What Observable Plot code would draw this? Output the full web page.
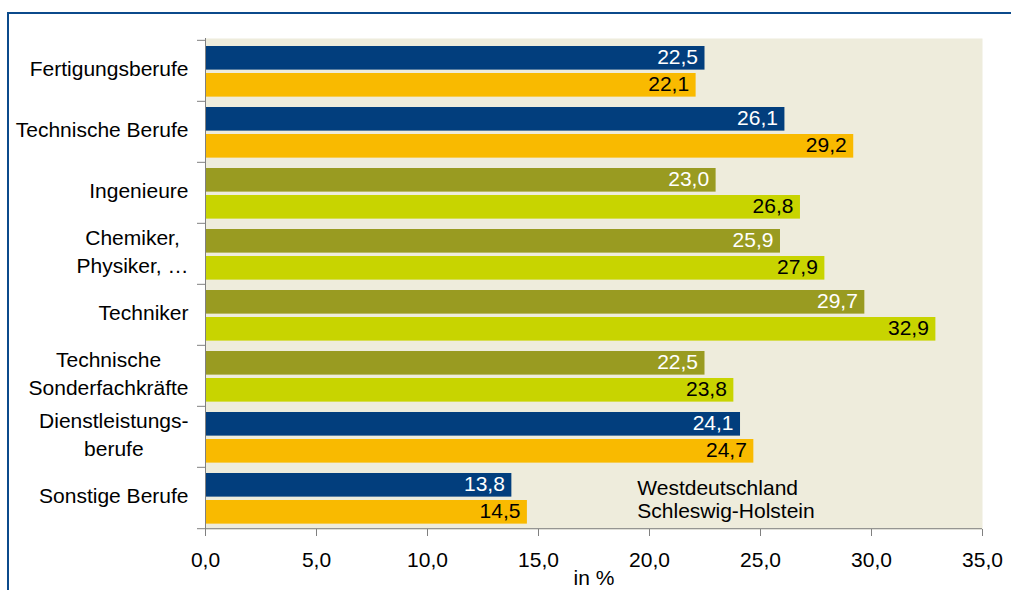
<!DOCTYPE html>
<html>
<head>
<meta charset="utf-8">
<script src="https://cdn.jsdelivr.net/npm/d3@7"></script>
<script src="https://cdn.jsdelivr.net/npm/@observablehq/plot@0.6"></script>
<style>
  html, body { margin: 0; padding: 0; background: #fff; overflow: hidden; width: 1011px; height: 590px; }
  #border { position: absolute; left: 7px; top: 12px; width: 1200px; height: 800px;
            border-top: 2px solid #0B4A8B; border-left: 2px solid #0B4A8B; }
  #chart { position: absolute; left: 0; top: 0; }
</style>
</head>
<body>
<div id="border"></div>
<div id="chart"></div>
<script>
const categories = [
  "Fertigungsberufe",
  "Technische Berufe",
  "Ingenieure",
  "Chemiker,\nPhysiker, …",
  "Techniker",
  "Technische\nSonderfachkräfte",
  "Dienstleistungs-\nberufe",
  "Sonstige Berufe"
];
const groups = ["main", "main", "sub", "sub", "sub", "sub", "main", "main"];
const westdeutschland = [22.5, 26.1, 23.0, 25.9, 29.7, 22.5, 24.1, 13.8];
const schleswigHolstein = [22.1, 29.2, 26.8, 27.9, 32.9, 23.8, 24.7, 14.5];
const seriesNames = ["Westdeutschland", "Schleswig-Holstein"];
const xTicks = [0, 5, 10, 15, 20, 25, 30, 35];
const axisLabel = "in %";

const colors = {
  main: ["#023E7D", "#F9BA00"],
  sub: ["#999B21", "#C8D400"]
};
const textColors = ["white", "black"];

const W = 1011, H = 590;
const mTop = 38, mBottom = 61, mLeft = 205, mRight = 29;
const bw = (H - mTop - mBottom) / categories.length;

const rows = categories.map((c, i) => ({
  cat: c, group: groups[i], a: westdeutschland[i], b: schleswigHolstein[i]
}));
const fmt = v => v.toFixed(1).replace(".", ",");

const chart = Plot.plot({
  width: W,
  height: H,
  marginTop: mTop,
  marginBottom: mBottom,
  marginLeft: mLeft,
  marginRight: mRight,
  style: { fontFamily: "'Liberation Sans', Arial, sans-serif", fontSize: "21px", color: "black", background: "transparent" },
  x: { domain: [0, 35] },
  y: { type: "band", domain: categories, padding: 0 },
  color: { type: "identity" },
  marks: [
    Plot.frame({ fill: "#EEECDC", stroke: null }),
    Plot.barX(rows, { y: "cat", x: "a", fill: d => colors[d.group][0], insetTop: 6, insetBottom: bw - 30 }),
    Plot.barX(rows, { y: "cat", x: "b", fill: d => colors[d.group][1], insetTop: 33, insetBottom: bw - 57 }),
    Plot.text(rows, { y: "cat", x: "a", text: d => fmt(d.a), textAnchor: "end", dx: -7, dy: -14, fill: textColors[0] }),
    Plot.text(rows, { y: "cat", x: "b", text: d => fmt(d.b), textAnchor: "end", dx: -7, dy: 13, fill: textColors[1] }),
    Plot.text([seriesNames.join("\n")], { x: 19.45, y: () => categories[categories.length - 1], textAnchor: "start", lineHeight: 1.1, dy: 1, fill: "black" }),
    Plot.ruleX([0], { stroke: "#808080" }),
    Plot.ruleY([categories[categories.length - 1]], { dy: bw / 2, stroke: "#808080" }),
    Plot.axisY({ tickSize: 8, tickFormat: () => "", dy: -bw / 2, stroke: "#808080", label: null }),
    Plot.axisY([categories[categories.length - 1]], { tickSize: 8, tickFormat: () => "", dy: bw / 2, stroke: "#808080", label: null }),
    Plot.axisY({ tickSize: 0, tickPadding: 17, lineHeight: 1.32, dy: -4, fill: "black", label: null }),
    Plot.axisX({ ticks: xTicks, tickFormat: fmt, tickSize: 7, tickPadding: 16, stroke: "#808080", fill: "black",
                 label: axisLabel, labelAnchor: "center", labelArrow: "none", labelOffset: 55 })
  ]
});

document.getElementById("chart").append(chart);

// center multi-line category labels within their block (right-aligned block)
chart.querySelectorAll('g[aria-label="y-axis tick label"] text').forEach(t => {
  const spans = t.querySelectorAll("tspan");
  if (spans.length < 2) return;
  const w = Math.max(...[...spans].map(s => s.getComputedTextLength()));
  t.setAttribute("text-anchor", "middle");
  spans.forEach(s => s.setAttribute("x", -w / 2));
});
</script>
</body>
</html>
